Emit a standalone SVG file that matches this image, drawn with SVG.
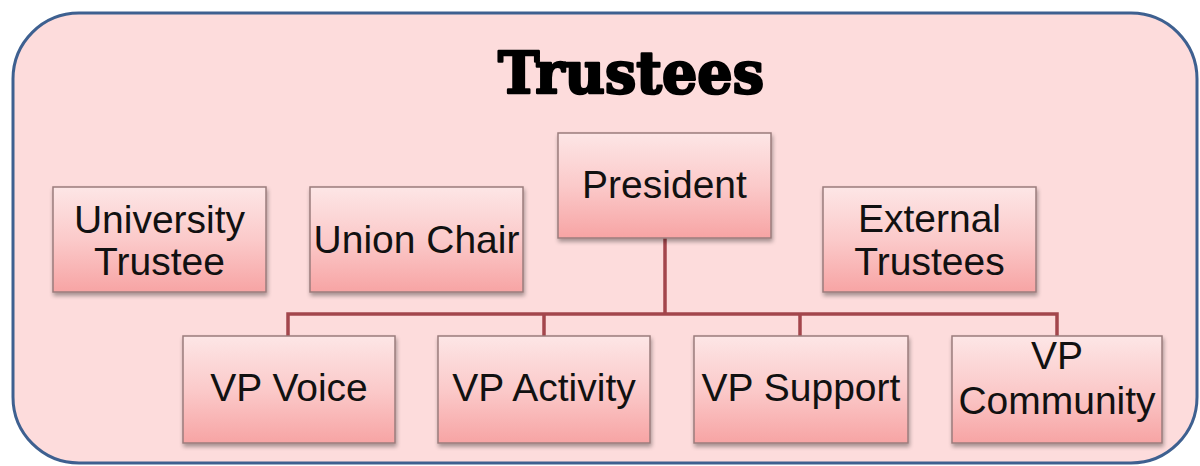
<svg xmlns="http://www.w3.org/2000/svg" width="1200" height="466" viewBox="0 0 1200 466">
<defs>
<linearGradient id="boxg" x1="0" y1="0" x2="0" y2="1">
<stop offset="0" stop-color="#fde6e6"/>
<stop offset="0.5" stop-color="#fbcaca"/>
<stop offset="1" stop-color="#f7a4a4"/>
</linearGradient>
<filter id="sh" x="-10%" y="-10%" width="130%" height="140%">
<feGaussianBlur in="SourceAlpha" stdDeviation="2"/>
<feOffset dx="1" dy="3" result="b"/>
<feComponentTransfer><feFuncA type="linear" slope="0.35"/></feComponentTransfer>
<feMerge><feMergeNode/><feMergeNode in="SourceGraphic"/></feMerge>
</filter>
</defs>
<style>
.box{fill:url(#boxg);stroke:#9a7c7c;stroke-width:1.5;filter:url(#sh)}
.lbl{font-family:"Liberation Sans",Arial,sans-serif;font-size:39px;fill:#111;text-anchor:middle}
.conn{fill:none;stroke:#a3464c;stroke-width:3.5}
.title{font-family:"DejaVu Serif",serif;font-weight:bold;font-size:58px;fill:#000;stroke:#000;stroke-width:2.5;stroke-linejoin:round;text-anchor:middle}
</style>
<rect x="0" y="0" width="1200" height="466" fill="#ffffff"/>
<rect id="frame" x="13" y="13" width="1184" height="450" rx="66" ry="66" fill="#fddcdc" stroke="#3e6090" stroke-width="3"/>
<text class="title" x="631" y="93" textLength="266" lengthAdjust="spacingAndGlyphs">Trustees</text>
<g id="connectors">
<path class="conn" d="M665 238 V314"/>
<path class="conn" d="M288 336 V314 H1057 V336"/>
<path class="conn" d="M544 314 V336"/>
<path class="conn" d="M800 314 V336"/>
</g>
<g id="university-trustee">
<rect class="box" x="53" y="187" width="213" height="105"/>
<text class="lbl" x="159.5" y="233">University</text>
<text class="lbl" x="159.5" y="275">Trustee</text>
</g>
<g id="union-chair">
<rect class="box" x="310" y="187" width="213" height="105"/>
<text class="lbl" x="416.5" y="253">Union Chair</text>
</g>
<g id="president">
<rect class="box" x="558" y="133" width="213" height="105"/>
<text class="lbl" x="664.5" y="198">President</text>
</g>
<g id="external-trustees">
<rect class="box" x="823" y="187" width="213" height="105"/>
<text class="lbl" x="929.5" y="232">External</text>
<text class="lbl" x="929.5" y="275">Trustees</text>
</g>
<g id="vp-voice">
<rect class="box" x="183" y="336" width="212" height="107"/>
<text class="lbl" x="289" y="401">VP Voice</text>
</g>
<g id="vp-activity">
<rect class="box" x="438" y="336" width="212" height="107"/>
<text class="lbl" x="544" y="401">VP Activity</text>
</g>
<g id="vp-support">
<rect class="box" x="694" y="336" width="214" height="107"/>
<text class="lbl" x="801" y="401">VP Support</text>
</g>
<g id="vp-community">
<rect class="box" x="952" y="336" width="210" height="107"/>
<text class="lbl" x="1057" y="369">VP</text>
<text class="lbl" x="1057" y="414">Community</text>
</g>
</svg>
